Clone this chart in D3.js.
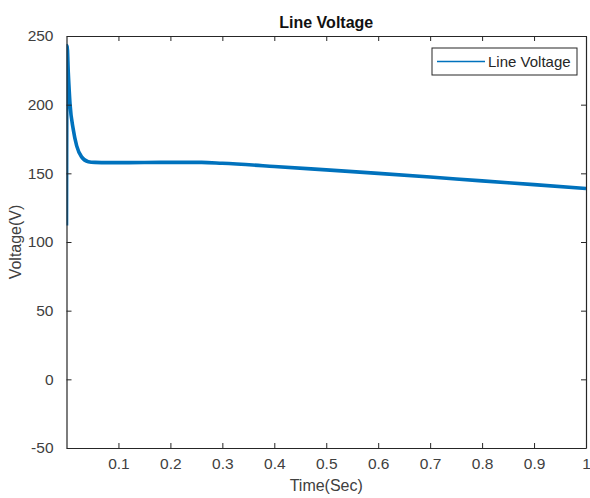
<!DOCTYPE html>
<html>
<head>
<meta charset="utf-8">
<script src="https://cdn.jsdelivr.net/npm/d3@7"></script>
<style>
	body { margin: 0; background: #fff; }
	svg { display: block; font-family: "Liberation Sans", Arial, sans-serif; }
</style>
</head>
<body>
<svg id="chart" width="590" height="498"></svg>
<script>
// time in seconds and line voltage
const timeSec = [0, 0.0012, 0.0035, 0.0067, 0.013, 0.0196, 0.029, 0.042, 0.055, 0.08, 0.12, 0.18, 0.26, 0.3, 0.4, 0.5, 0.6, 0.7, 0.8, 0.9, 1.0];
const voltage = [112, 243, 223, 201, 182, 170, 162, 158.5, 158, 157.8, 157.8, 158, 158, 157.3, 155, 152.5, 150, 147.3, 144.5, 141.8, 139];

const xTicks = [0.1, 0.2, 0.3, 0.4, 0.5, 0.6, 0.7, 0.8, 0.9, 1];
const yTicks = [-50, 0, 50, 100, 150, 200, 250];

const titleText = "Line Voltage";
const xLabel = "Time(Sec)";
const yLabel = "Voltage(V)";
const seriesName = "Line Voltage";

const axisColor = "#262626";
const lineColor = "#0072BD";

const box = { left: 66.5, right: 586, top: 36, bottom: 448 };

const svg = d3.select("#chart");

const x = d3.scaleLinear().domain([0, 1]).range([box.left, box.right]);
const y = d3.scaleLinear().domain([-50, 250]).range([box.bottom, box.top]);

const points = timeSec.map((t, i) => ({ t: t, v: voltage[i] }));

// clip so the thick trace stays inside the axes
svg.append("clipPath")
	.attr("id", "plot-clip")
	.append("rect")
	.attr("x", box.left)
	.attr("y", box.top)
	.attr("width", box.right - box.left)
	.attr("height", box.bottom - box.top);

svg.append("path")
	.datum(points)
	.attr("clip-path", "url(#plot-clip)")
	.attr("fill", "none")
	.attr("stroke", lineColor)
	.attr("stroke-width", 3.6)
	.attr("stroke-linejoin", "round")
	.attr("d", d3.line().x(d => x(d.t)).y(d => y(d.v)).curve(d3.curveMonotoneX));

// axes: ticks point inward, mirrored on top and right like MATLAB's box
const tickLen = 5;
const plain = d => String(d); // hyphen minus, as in the original
const styleAxis = g => {
	g.selectAll(".domain").attr("stroke", axisColor).attr("stroke-width", 1.2);
	g.selectAll(".tick line").attr("stroke", axisColor).attr("stroke-width", 1);
	g.selectAll(".tick text").attr("fill", "#404040").attr("font-size", 15.5);
};

svg.append("g")
	.attr("transform", `translate(0,${box.bottom})`)
	.call(d3.axisBottom(x).tickValues(xTicks).tickFormat(plain).tickSizeInner(-tickLen).tickSizeOuter(0).tickPadding(10))
	.call(styleAxis)
	.call(g => g.selectAll(".tick text").attr("dy", "0.71em"));

svg.append("g")
	.attr("transform", `translate(0,${box.top})`)
	.call(d3.axisTop(x).tickValues(xTicks).tickFormat("").tickSizeInner(-tickLen).tickSizeOuter(0))
	.call(styleAxis);

svg.append("g")
	.attr("transform", `translate(${box.left},0)`)
	.call(d3.axisLeft(y).tickValues(yTicks).tickFormat(plain).tickSizeInner(-tickLen).tickSizeOuter(0).tickPadding(13))
	.call(styleAxis);

svg.append("g")
	.attr("transform", `translate(${box.right},0)`)
	.call(d3.axisRight(y).tickValues(yTicks).tickFormat("").tickSizeInner(-tickLen).tickSizeOuter(0))
	.call(styleAxis);

// labels
svg.append("text")
	.attr("x", (box.left + box.right) / 2)
	.attr("y", 28)
	.attr("text-anchor", "middle")
	.attr("font-weight", "bold")
	.attr("font-size", 16)
	.attr("fill", "#111")
	.text(titleText);

svg.append("text")
	.attr("x", (box.left + box.right) / 2)
	.attr("y", 491)
	.attr("text-anchor", "middle")
	.attr("font-size", 16)
	.attr("fill", "#404040")
	.text(xLabel);

svg.append("text")
	.attr("transform", `translate(21,${(box.top + box.bottom) / 2}) rotate(-90)`)
	.attr("text-anchor", "middle")
	.attr("font-size", 16)
	.attr("fill", "#404040")
	.text(yLabel);

// legend
const legend = svg.append("g").attr("transform", "translate(432,48)");
legend.append("rect")
	.attr("width", 145)
	.attr("height", 27)
	.attr("fill", "#fff")
	.attr("stroke", axisColor)
	.attr("stroke-width", 1);
legend.append("line")
	.attr("x1", 5).attr("x2", 53)
	.attr("y1", 13.5).attr("y2", 13.5)
	.attr("stroke", lineColor)
	.attr("stroke-width", 1.5);
legend.append("text")
	.attr("x", 56)
	.attr("y", 19)
	.attr("font-size", 15)
	.attr("fill", "#262626")
	.text(seriesName);
</script>
</body>
</html>
